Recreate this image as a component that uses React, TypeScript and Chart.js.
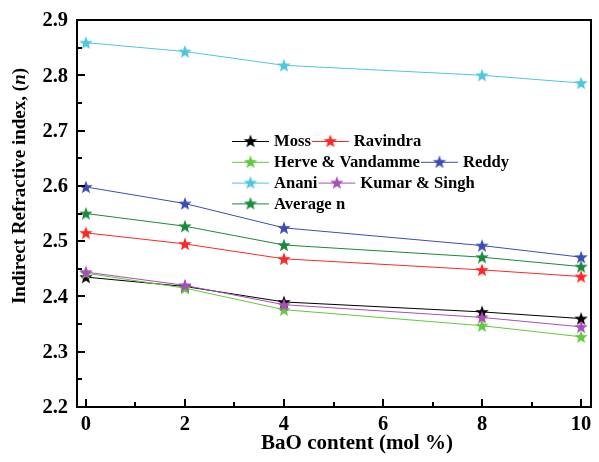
import React, { useEffect, useRef } from "react";
import { Chart, registerables } from "chart.js";

Chart.register(...registerables);

const xValues = [0, 2, 4, 8, 10];
const mossValues = [2.435, 2.418, 2.39, 2.372, 2.36];
const ravindraValues = [2.515, 2.495, 2.468, 2.448, 2.436];
const herveValues = [2.442, 2.415, 2.376, 2.347, 2.327];
const reddyValues = [2.598, 2.568, 2.524, 2.492, 2.471];
const ananiValues = [2.859, 2.843, 2.818, 2.8, 2.786];
const kumarValues = [2.444, 2.42, 2.385, 2.362, 2.345];
const averageValues = [2.55, 2.527, 2.493, 2.471, 2.454];

const seriesNames = ["Moss", "Ravindra", "Herve & Vandamme", "Reddy", "Anani", "Kumar & Singh", "Average n"];
const seriesColors = ["#000000", "#ff2626", "#62c83e", "#3b4db4", "#4ec6de", "#a64fb6", "#1a8a3c"];
const seriesValues = [mossValues, ravindraValues, herveValues, reddyValues, ananiValues, kumarValues, averageValues];

const yMajorTicks = [2.2, 2.3, 2.4, 2.5, 2.6, 2.7, 2.8, 2.9];
const yMinorTicks = [2.25, 2.35, 2.45, 2.55, 2.65, 2.75, 2.85];
const xMajorTicks = [0, 2, 4, 6, 8, 10];
const xMinorTicks = [1, 3, 5, 7, 9];

const xTitle = "BaO content (mol %)";
const yTitleParts = ["Indirect Refractive index, (", "n", ")"];

// legend rows: indices of series in each row
const legendRows = [[0, 1], [2, 3], [4, 5], [6]];

const FONT = '"Liberation Serif", "Times New Roman", serif';

function makeStar(color: string, outer: number, inner: number): HTMLCanvasElement {
  const size = Math.ceil(outer * 2 + 4);
  const c = document.createElement("canvas");
  c.width = size;
  c.height = size;
  const g = c.getContext("2d")!;
  const cx = size / 2;
  const cy = size / 2 + 0.5;
  g.beginPath();
  for (let i = 0; i < 10; i++) {
    const r = i % 2 === 0 ? outer : inner;
    const a = -Math.PI / 2 + (i * Math.PI) / 5;
    const px = cx + r * Math.cos(a);
    const py = cy + r * Math.sin(a);
    if (i === 0) g.moveTo(px, py);
    else g.lineTo(px, py);
  }
  g.closePath();
  g.fillStyle = color;
  g.fill();
  return c;
}

export default function App() {
  const ref = useRef<HTMLCanvasElement | null>(null);

  useEffect(() => {
    if (!ref.current) return;
    const stars = seriesColors.map((c) => makeStar(c, 7, 2.9));

    const decor = {
      id: "decor",
      afterDraw(chart: any) {
        const { ctx, chartArea } = chart;
        const xs = chart.scales.x;
        const ys = chart.scales.y;
        const { left, right, top, bottom } = chartArea;
        ctx.save();
        ctx.strokeStyle = "#000";
        ctx.lineWidth = 2;
        ctx.strokeRect(left, top, right - left, bottom - top);
        ctx.beginPath();
        yMajorTicks.forEach((v) => {
          const py = Math.round(ys.getPixelForValue(v));
          ctx.moveTo(left, py);
          ctx.lineTo(left + 8, py);
        });
        yMinorTicks.forEach((v) => {
          const py = Math.round(ys.getPixelForValue(v));
          ctx.moveTo(left, py);
          ctx.lineTo(left + 5, py);
        });
        xMajorTicks.forEach((v) => {
          const px = Math.round(xs.getPixelForValue(v));
          ctx.moveTo(px, bottom);
          ctx.lineTo(px, bottom - 8);
        });
        xMinorTicks.forEach((v) => {
          const px = Math.round(xs.getPixelForValue(v));
          ctx.moveTo(px, bottom);
          ctx.lineTo(px, bottom - 5);
        });
        ctx.stroke();

        ctx.fillStyle = "#000";
        ctx.font = `bold 20.5px ${FONT}`;
        ctx.textAlign = "right";
        ctx.textBaseline = "middle";
        yMajorTicks.forEach((v) => {
          ctx.fillText(v.toFixed(1), left - 9, ys.getPixelForValue(v) + 1);
        });
        ctx.textAlign = "center";
        ctx.textBaseline = "middle";
        xMajorTicks.forEach((v) => {
          ctx.fillText(String(v), xs.getPixelForValue(v), bottom + 18);
        });

        ctx.font = `bold 21px ${FONT}`;
        ctx.fillText(xTitle, 357, bottom + 37);

        // y title with italic n
        ctx.save();
        ctx.translate(20, 186);
        ctx.rotate(-Math.PI / 2);
        const fonts = [`bold 19px ${FONT}`, `italic bold 19px ${FONT}`, `bold 19px ${FONT}`];
        const widths = yTitleParts.map((t, i) => {
          ctx.font = fonts[i];
          return ctx.measureText(t).width;
        });
        const total = widths.reduce((a, b) => a + b, 0);
        let cx = -total / 2;
        ctx.textAlign = "left";
        ctx.textBaseline = "middle";
        yTitleParts.forEach((t, i) => {
          ctx.font = fonts[i];
          ctx.fillText(t, cx, 0);
          cx += widths[i];
        });
        ctx.restore();

        // legend
        ctx.font = `bold 16.6px ${FONT}`;
        ctx.textAlign = "left";
        ctx.textBaseline = "middle";
        const startX = 232;
        const startY = 141;
        const rowH = 20.8;
        legendRows.forEach((row, ri) => {
          let lx = startX;
          const ly = startY + ri * rowH;
          row.forEach((si) => {
            ctx.strokeStyle = seriesColors[si];
            ctx.lineWidth = 1;
            ctx.beginPath();
            ctx.moveTo(lx, ly + 0.5);
            ctx.lineTo(lx + 37, ly + 0.5);
            ctx.stroke();
            const st = stars[si];
            ctx.drawImage(st, lx + 18.5 - st.width / 2, ly - st.height / 2);
            ctx.fillStyle = "#000";
            const tx = lx + 42;
            ctx.fillText(seriesNames[si], tx, ly + 1);
            lx = tx + ctx.measureText(seriesNames[si]).width + 1;
          });
        });
        ctx.restore();
      },
    };

    const chart = new Chart(ref.current, {
      type: "line",
      data: {
        datasets: seriesValues.map((vals, i) => ({
          label: seriesNames[i],
          data: xValues.map((x, j) => ({ x, y: vals[j] })),
          borderColor: seriesColors[i],
          backgroundColor: seriesColors[i],
          borderWidth: 1,
          pointStyle: stars[i] as any,
          pointRadius: 7,
          pointHoverRadius: 7,
          tension: 0,
          clip: false as any,
          order: -i,
        })),
      },
      options: {
        responsive: false,
        animation: false,
        layout: { padding: { left: 77, right: 2, top: 20, bottom: 55 } },
        plugins: { legend: { display: false }, tooltip: { enabled: false } },
        scales: {
          x: { type: "linear", min: -0.18, max: 10.2, display: false },
          y: { type: "linear", min: 2.2, max: 2.9, display: false },
        },
      },
      plugins: [decor],
    });
    return () => chart.destroy();
  }, []);

  return (
    <div style={{ position: "fixed", left: 0, top: 0, width: 599, height: 462, background: "#fff" }}>
      <canvas ref={ref} width={599} height={462} style={{ display: "block", width: 599, height: 462 }} />
    </div>
  );
}
